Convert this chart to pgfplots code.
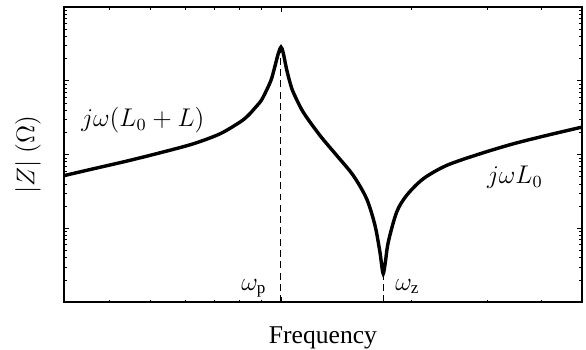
\documentclass[border=0pt]{standalone}
\usepackage{fontspec}
\setmainfont{Liberation Serif}
\usepackage{pgfplots}
\pgfplotsset{compat=1.18}

\begin{document}
\begin{tikzpicture}[font=\fontsize{12}{14}\selectfont]
\begin{axis}[
  scale only axis,
  width=242.8pt, height=138.3pt,
  xmode=log, ymode=log,
  xmin=0.3146, xmax=4.975,
  ymin=1, ymax=10000,
  xtick={1},
  minor xtick={0.4,0.5,0.6,0.7,0.8,0.9,2,3,4},
  ytick={1,10,100,1000,10000},
  minor ytick={2,3,4,5,6,7,8,9,20,30,40,50,60,70,80,90,200,300,400,500,600,700,800,900,2000,3000,4000,5000,6000,7000,8000,9000},
  xticklabels={}, yticklabels={},
  tick align=inside,
  major tick length=2.4pt, minor tick length=1.2pt,
  every tick/.style={black, line width=0.4pt},
  axis line style={line width=0.9pt},
  xlabel={Frequency},
  ylabel={$|Z|\ (\Omega)$},
  xlabel style={at={(axis description cs:0.5,0)}, anchor=base, yshift=-19.5pt, inner sep=0pt},
  ylabel style={at={(axis description cs:-0.0696,0.5)}, anchor=center, inner sep=0pt},
]
% impedance magnitude versus frequency
\addplot[black, line width=1.6pt, smooth, tension=0.5] coordinates {
  (0.3146, 51.9) (0.3677, 64.2) (0.4393, 81.6) (0.5248, 105.8)
  (0.6266, 140.1) (0.7226, 191.4) (0.8036, 275.9) (0.840, 340)
  (0.8784, 455) (0.900, 540) (0.9266, 750) (0.950, 1050)
  (0.9685, 1580) (0.985, 2300) (1.000, 2868) (1.012, 2400)
  (1.031, 1420) (1.050, 940) (1.068, 700)
  (1.126, 377) (1.231, 182.1) (1.346, 97.5) (1.470, 52.2)
  (1.579, 25.2) (1.651, 10.96) (1.695, 4.76) (1.708, 3.4)
  (1.725, 2.43) (1.745, 3.5) (1.772, 6.51) (1.853, 16.6)
  (1.954, 28.0) (2.135, 47.0) (2.419, 71.4) (2.888, 102.5)
  (3.450, 140.1) (4.121, 182.1) (4.975, 236)
};
% pole and zero markers
\addplot[black, line width=0.5pt, dash pattern=on 3.2pt off 2.1pt] coordinates {(1,1) (1,2868)};
\addplot[black, line width=0.5pt, dash pattern=on 3.2pt off 2.1pt] coordinates {(1.725,1) (1.725,2.43)};
\node at (axis cs:0.479,294) {$j\omega(L_0+L)$};
\node at (axis cs:3.48,49.6) {$j\omega L_0$};
\node[anchor=base east, inner sep=0pt] at (axis cs:0.928,1.455) {$\omega_{\mathrm{p}}$};
\node[anchor=base west, inner sep=0pt] at (axis cs:1.836,1.455) {$\omega_{\mathrm{z}}$};
\end{axis}
\path ([shift={(-30pt,-22pt)}]current axis.south west) rectangle ([shift={(1.9pt,2.3pt)}]current axis.north east);
\end{tikzpicture}
\end{document}
